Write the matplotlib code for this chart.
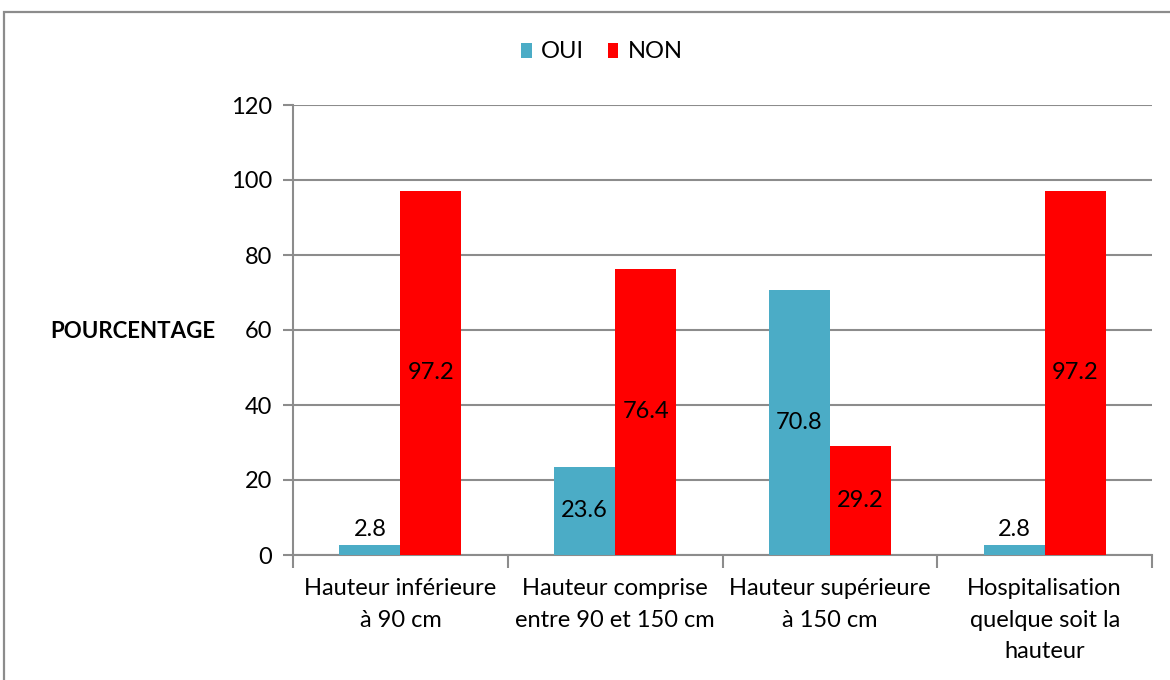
import matplotlib
matplotlib.use("Agg")
import matplotlib.pyplot as plt
from matplotlib.patches import Rectangle
import numpy as np

categories = [
    "Hauteur inférieure\nà 90 cm",
    "Hauteur comprise\nentre 90 et 150 cm",
    "Hauteur supérieure\nà 150 cm",
    "Hospitalisation\nquelque soit la\nhauteur",
]
oui = [2.8, 23.6, 70.8, 2.8]
non = [97.2, 76.4, 29.2, 97.2]
series_names = ["OUI", "NON"]
y_ticks = [0, 20, 40, 60, 80, 100, 120]

plt.rcParams["font.family"] = ["Lato", "DejaVu Sans"]
FS = 17
GRID = "#8c8c8c"
C_OUI = "#4BACC6"
C_NON = "#FF0000"

fig = plt.figure(figsize=(11.7, 6.8), dpi=100)
fig.patches.append(Rectangle((4 / 1170, -0.05), 1.1, 1 - 12 / 680 + 0.05,
                             transform=fig.transFigure, fill=False,
                             edgecolor="#8c8c8c", linewidth=1.6))

ax = fig.add_axes([293 / 1170, 1 - 555 / 680, 859 / 1170, 450 / 680])
x = np.arange(len(categories))
w = 0.284
b1 = ax.bar(x - w / 2, oui, w, color=C_OUI, label=series_names[0], zorder=3)
b2 = ax.bar(x + w / 2, non, w, color=C_NON, label=series_names[1], zorder=3)

for bars, vals in ((b1, oui), (b2, non)):
    for rect, v in zip(bars, vals):
        cx = rect.get_x() + rect.get_width() / 2
        if v < 10:
            ax.annotate(f"{v:.1f}", (cx, v), xytext=(0, 3), textcoords="offset points",
                        ha="center", va="bottom", fontsize=FS, zorder=4)
        else:
            ax.text(cx, v / 2, f"{v:.1f}", ha="center", va="center", fontsize=FS, zorder=4)

ax.set_xlim(-0.5, len(categories) - 0.5)
ax.set_ylim(0, 120)
ax.set_yticks(y_ticks)
ax.tick_params(axis="y", length=7, color=GRID, width=1.5, labelsize=FS, pad=8)
ax.yaxis.grid(True, color=GRID, linewidth=1.5, zorder=0)
ax.set_axisbelow(True)

ax.set_xticks(np.arange(len(categories) + 1) - 0.5)
ax.set_xticklabels([])
ax.tick_params(axis="x", length=9, color=GRID, width=1.5)
for i, lab in enumerate(categories):
    ax.text(i, -6.2, lab, ha="center", va="top", fontsize=FS, linespacing=1.62,
            transform=ax.transData)

for s in ("top", "right"):
    ax.spines[s].set_visible(False)
for s in ("left", "bottom"):
    ax.spines[s].set_color(GRID)
    ax.spines[s].set_linewidth(1.5)

fig.text(50 / 1170, 1 - 331 / 680, "POURCENTAGE", fontsize=16, fontweight="bold",
         ha="left", va="center")

fig.legend(handles=[b1, b2], labels=series_names, loc="center",
           bbox_to_anchor=(602 / 1170, 1 - 52 / 680), ncol=2, frameon=False,
           fontsize=FS, handlelength=0.45, handleheight=0.6, handletextpad=0.4,
           columnspacing=1.0)

fig.savefig("out.png", dpi=100)
